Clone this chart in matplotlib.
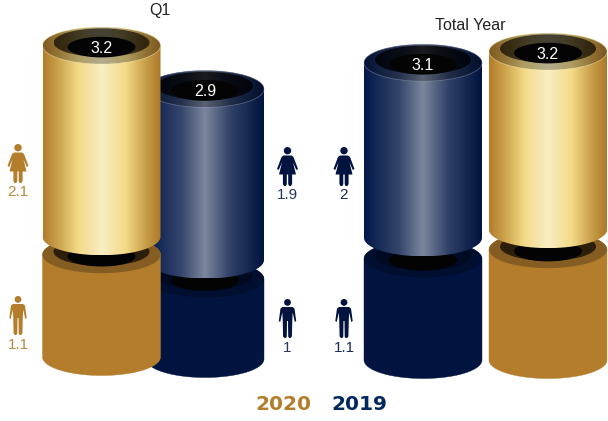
import matplotlib
matplotlib.use("Agg")
import matplotlib.pyplot as plt
import numpy as np
from matplotlib.colors import LinearSegmentedColormap
from matplotlib.patches import Circle, Ellipse, Polygon

plt.rcParams["font.family"] = ["Liberation Sans", "DejaVu Sans"]

# values, in draw order: 2019 Q1 sits behind 2020 Q1
panels = ["Q1", "Total Year"]
cyl_names = ["2019 Q1", "2020 Q1", "2019 Year", "2020 Year"]
totals = [2.9, 3.2, 3.1, 3.2]
lower = [1.0, 1.1, 1.1, 1.2]
upper = [1.9, 2.1, 2.0, 2.0]
total_labels = ["2.9", "3.2", "3.1", "3.2"]

women_labels = ["2.1", "1.9", "2"]
men_labels = ["1.1", "1", "1.1"]

# layout of the cylinders
cx = [205, 101.5, 423, 548]
base_y = [359, 357, 360, 360]
gap = [19, 18, 21, 20]
lower_px = [80, 93, 92, 92]
upper_px = [90, 91, 87.5, 89]
is_gold = [False, True, False, True]

GOLD = "#b47d2b"
NAVY = "#00143f"
A, B = 59, 18.5

gold_map = LinearSegmentedColormap.from_list("gold", [(0, "#b27c2c"), (0.12, "#c9a048"), (0.3, "#f4da88"),
                                                      (0.5, "#f8eec4"), (0.7, "#f4da88"), (0.88, "#c79c46"), (1, "#ad7829")])
navy_map = LinearSegmentedColormap.from_list("navy", [(0, "#03194a"), (0.3, "#35466c"), (0.5, "#7c879e"),
                                                      (0.72, "#2f3f66"), (1, "#00143f")])

fig = plt.figure(figsize=(6.08, 4.21), dpi=100)
ax = fig.add_axes([0, 0, 1, 1])
z = [10]


def nz():
    z[0] += 1
    return z[0]


def grad_ellipse(c, y, a, b, cmap, k):
    # ellipse filled with the darkened horizontal gradient
    e = Ellipse((c, y), 2 * a, 2 * b, fc="none", ec="none", zorder=nz())
    ax.add_patch(e)
    g = cmap(np.linspace(0, 1, 256))[None, :, :3] * k
    im = ax.imshow(g, extent=(c - a, c + a, y + b, y - b), aspect="auto", zorder=nz())
    im.set_clip_path(e)


def cyl_outline(c, y_top, y_bot):
    t = np.linspace(0, np.pi, 80)
    bottom = np.c_[c + A * np.cos(t), y_bot + B * np.sin(t)]
    top = np.c_[c - A * np.cos(t), y_top - B * np.sin(t)]
    return np.vstack([bottom, top])


def top_cylinder(c, y_top, y_bot, cmap, label, tint, ring_k):
    # glossy upper part with hollow top
    pts = cyl_outline(c, y_top, y_bot)
    p = Polygon(pts, closed=True, fc="none", ec="none", zorder=nz())
    ax.add_patch(p)
    g = cmap(np.linspace(0, 1, 256))[None, :, :3]
    im = ax.imshow(g, extent=(c - A, c + A, y_bot + B, y_top - B), aspect="auto", zorder=nz())
    im.set_clip_path(p)
    grad_ellipse(c, y_top, A, B, cmap, 0.72)
    ax.add_patch(Ellipse((c, y_top), 2 * A, 2 * B, fc="none", ec=tint, lw=0.6, alpha=0.5, zorder=nz()))
    grad_ellipse(c, y_top - 3, 48, 14.2, cmap, ring_k)
    ax.add_patch(Ellipse((c, y_top + 1.5), 68, 20.6, fc="#040404", ec="none", zorder=nz()))
    ax.text(c, y_top + 2.5, label, color="white", fontsize=11.5, ha="center", va="center", zorder=nz())


def bottom_cylinder(c, y_top, y_bot, color, ring, inner):
    # flat lower part, the upper one sits in its opening
    ax.add_patch(Polygon(cyl_outline(c, y_top, y_bot), closed=True, fc=color, ec=color, lw=0.3, zorder=nz()))
    ax.add_patch(Ellipse((c, y_top), 2 * A, 2 * B, fc=ring, ec="none", zorder=nz()))
    ax.add_patch(Ellipse((c, y_top - 3), 96, 28.4, fc=inner, ec="none", zorder=nz()))
    ax.add_patch(Ellipse((c, y_top + 1.5), 68, 20.6, fc="#030303", ec="none", zorder=nz()))


def woman(x, y, color):
    ax.add_patch(Circle((x, y + 3.7), 3.7, fc=color, ec="none", zorder=5))
    body = [(-4, 8.5), (4, 8.5), (6, 10), (10.5, 22), (8.8, 23), (5.5, 15.5), (8.5, 27.5), (4.6, 27.5), (4.6, 37),
            (3.5, 39), (1.6, 39), (0.7, 37), (0.7, 27.5), (-0.7, 27.5), (-0.7, 37), (-1.6, 39), (-3.5, 39),
            (-4.6, 37), (-4.6, 27.5), (-8.5, 27.5), (-5.5, 15.5), (-8.8, 23), (-10.5, 22), (-6, 10)]
    ax.add_patch(Polygon([(x + a, y + b) for a, b in body], closed=True, fc=color, ec="none", zorder=5))


def man(x, y, color):
    ax.add_patch(Circle((x, y + 3.4), 3.4, fc=color, ec="none", zorder=5))
    body = [(-5, 8), (5, 8), (7, 9.5), (8.7, 22), (7.3, 23), (5.2, 13.5), (4.8, 21), (4.4, 37.5), (3, 39), (1.6, 39),
            (0.7, 37.5), (0.5, 22), (-0.5, 22), (-0.7, 37.5), (-1.6, 39), (-3, 39), (-4.4, 37.5), (-4.8, 21),
            (-5.2, 13.5), (-7.3, 23), (-8.7, 22), (-7, 9.5)]
    ax.add_patch(Polygon([(x + a, y + b) for a, b in body], closed=True, fc=color, ec="none", zorder=5))


for i, name in enumerate(cyl_names):
    low_top = base_y[i] - lower[i] * lower_px[i]
    up_bot = low_top - gap[i]
    up_top = up_bot - upper[i] * upper_px[i]
    if is_gold[i]:
        bottom_cylinder(cx[i], low_top, base_y[i], GOLD, "#855d22", "#2c1e0a")
        top_cylinder(cx[i], up_top, up_bot, gold_map, total_labels[i], "#fff3c0", 0.28)
    else:
        bottom_cylinder(cx[i], low_top, base_y[i], NAVY, "#000e30", "#000a22")
        top_cylinder(cx[i], up_top, up_bot, navy_map, total_labels[i], "#8f9ab5", 0.2)

# people icons with the split below them
icon_x = [18, 287.5, 344]
icon_col = [GOLD, NAVY, NAVY]
text_col = ["#bb8a40", "#26365f", "#1a2b58"]
woman_y = [144, 147, 147]
man_y = [296, 299, 299]
for i in range(3):
    woman(icon_x[i], woman_y[i], icon_col[i])
    man(icon_x[i], man_y[i], icon_col[i])
    ax.text(icon_x[i], woman_y[i] + 48, women_labels[i], color=text_col[i], fontsize=11, ha="center", va="center")
    ax.text(icon_x[i], man_y[i] + 49, men_labels[i], color=text_col[i], fontsize=11, ha="center", va="center")

ax.text(160, 11, panels[0], color="#222222", fontsize=11.5, ha="center", va="center", zorder=50)
ax.text(470.5, 25.5, panels[1], color="#222222", fontsize=11.5, ha="center", va="center", zorder=50)

ax.text(283.5, 404, "2020", color=GOLD, fontsize=14.5, fontweight="bold", family="DejaVu Sans", ha="center", va="center")
ax.text(359, 404, "2019", color="#00285f", fontsize=14.5, fontweight="bold", family="DejaVu Sans", ha="center", va="center")

ax.set_xlim(0, 608)
ax.set_ylim(421, 0)
ax.axis("off")

fig.savefig("out.png", dpi=100)
plt.close(fig)
